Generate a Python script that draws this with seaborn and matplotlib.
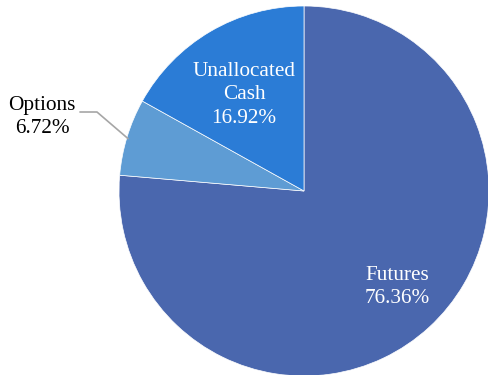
import matplotlib
matplotlib.use("Agg")
import matplotlib.pyplot as plt
import seaborn as sns

sns.set_style("white")
plt.rcParams['font.family'] = ['Liberation Serif', 'DejaVu Serif']

categories = ["Futures", "Options", "Unallocated\nCash"]
values = [76.36, 6.72, 16.92]
colors = ["#4A67AE", "#5E9CD4", "#2B7CD6"]

W, H = 488, 375
fig = plt.figure(figsize=(W / 100, H / 100), dpi=100)
cx, cy, r = 304, 191, 185
ax = fig.add_axes([(cx - r) / W, (H - cy - r) / H, 2 * r / W, 2 * r / H])
ax.pie(values, colors=colors, startangle=90, counterclock=False,
       wedgeprops=dict(edgecolor="white", linewidth=0.5), radius=1.0)
ax.set_xlim(-1, 1)
ax.set_ylim(-1, 1)
ax.set_aspect("equal")

fs = 15.3
ls = 1.3
lab = [f"{c}\n{v:.2f}%" for c, v in zip(categories, values)]
ax.text(0.503, -0.519, lab[0], color="white", ha="center", va="center",
        fontsize=fs, linespacing=ls)
ax.text(-0.324, 0.519, lab[2], color="white", ha="center", va="center",
        fontsize=fs, linespacing=ls)
t = ax.text(-1.416, 0.40, lab[1], color="black", ha="center", va="center",
            fontsize=fs, linespacing=ls)
t.set_clip_on(False)
ln, = ax.plot([-1.211, -1.119, -0.951], [0.427, 0.427, 0.283],
              color="#A6A6A6", lw=1.2)
ln.set_clip_on(False)

fig.savefig("out.png", dpi=100)
